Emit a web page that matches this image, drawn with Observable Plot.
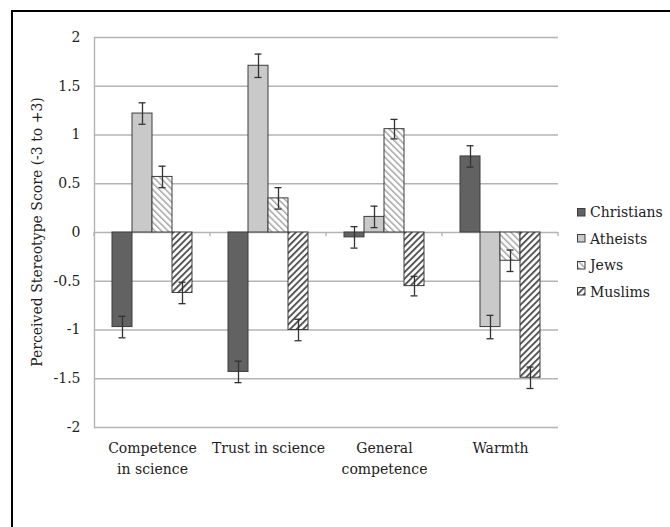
<!DOCTYPE html>
<html>
<head>
<meta charset="utf-8">
<script src="https://cdn.jsdelivr.net/npm/d3@7"></script>
<script src="https://cdn.jsdelivr.net/npm/@observablehq/plot@0.6"></script>
<style>
  html, body { margin: 0; padding: 0; background: #fff; overflow: hidden; }
  #wrap { position: relative; width: 670px; height: 527px; }
  #frame { position: absolute; left: 10.5px; top: 10px; width: 720px; height: 580px;
           border: 2.5px solid #000; box-sizing: border-box; }
  #chart { position: absolute; left: 0; top: 0; }
  #ytitle { position: absolute; left: 37px; top: 231.5px; white-space: nowrap;
            font-family: "DejaVu Serif", serif; font-size: 14px; color: #222;
            transform: translate(-50%, -50%) rotate(-90deg); }
  #legend { position: absolute; left: 577px; top: 199px;
            font-family: "DejaVu Serif", serif; font-size: 14px; color: #222; }
  #legend .row { display: flex; align-items: center; height: 26.5px; }
  #legend svg { margin-right: 4px; }
</style>
</head>
<body>
<svg width="0" height="0" style="position:absolute">
  <defs>
    <pattern id="hatch-jews" patternUnits="userSpaceOnUse" width="4.6" height="10" patternTransform="rotate(-45)">
      <rect width="4.6" height="10" fill="#fff"></rect>
      <rect x="0" width="1.5" height="10" fill="#a6a6a6"></rect>
    </pattern>
    <pattern id="hatch-muslims" patternUnits="userSpaceOnUse" width="4.6" height="10" patternTransform="rotate(45)">
      <rect width="4.6" height="10" fill="#fff"></rect>
      <rect x="0" width="1.9" height="10" fill="#555"></rect>
    </pattern>
  </defs>
</svg>
<div id="wrap">
  <div id="frame"></div>
  <div id="chart"></div>
  <div id="ytitle">Perceived Stereotype Score (-3 to +3)</div>
  <div id="legend"></div>
</div>
<script>
// Stereotype dimensions and their axis labels
const categories = ["Competence in science", "Trust in science", "General competence", "Warmth"];
const categoryLabels = ["Competence\nin science", "Trust in science", "General\ncompetence", "Warmth"];

// Target groups
const groups = ["Christians", "Atheists", "Jews", "Muslims"];

// Mean perceived stereotype scores, one value per dimension
const christians = [-0.97, -1.43, -0.05, 0.78];
const atheists   = [1.22, 1.71, 0.16, -0.97];
const jews       = [0.57, 0.35, 1.06, -0.29];
const muslims    = [-0.62, -1.00, -0.55, -1.49];

// Standard errors
const seChristians = [0.11, 0.11, 0.11, 0.11];
const seAtheists   = [0.11, 0.12, 0.11, 0.12];
const seJews       = [0.11, 0.11, 0.10, 0.11];
const seMuslims    = [0.11, 0.11, 0.10, 0.11];

const yTicks = [-2, -1.5, -1, -0.5, 0, 0.5, 1, 1.5, 2];

const groupFills = ["#626262", "#c9c9c9", "url(#hatch-jews)", "url(#hatch-muslims)"];

const values = [christians, atheists, jews, muslims];
const errors = [seChristians, seAtheists, seJews, seMuslims];
const rows = [];
categories.forEach((c, ci) => {
  groups.forEach((g, gi) => {
    rows.push({category: c, group: g, value: values[gi][ci], se: errors[gi][ci]});
  });
});

const chart = Plot.plot({
  width: 670,
  height: 527,
  marginLeft: 93,
  marginRight: 112,
  marginTop: 37,
  marginBottom: 100,
  style: {fontFamily: "DejaVu Serif, serif", fontSize: "14px", color: "#222", background: "transparent", overflow: "visible"},
  fx: {domain: categories, padding: 0, axis: null},
  x: {domain: groups, paddingInner: 0, paddingOuter: 0.77, axis: null},
  y: {domain: [-2, 2], axis: null},
  color: {domain: groups, range: groupFills},
  marks: [
    Plot.gridY(yTicks, {stroke: "#b4b4b4", strokeOpacity: 1, strokeWidth: 1.4}),
    Plot.frame({anchor: "left", facetAnchor: "left", stroke: "#b4b4b4", strokeWidth: 1.4}),
    Plot.axisY(yTicks, {label: null, tickSize: 0, tickPadding: 14, fontSize: 14, tickFormat: d => String(d)}),
    Plot.barY(rows, {fx: "category", x: "group", y: "value", fill: "group", stroke: "#3c3c3c", strokeWidth: 1}),
    Plot.ruleX(rows, {fx: "category", x: "group", y1: d => d.value - d.se, y2: d => d.value + d.se, stroke: "#333", strokeWidth: 1.3}),
    Plot.tickY(rows, {fx: "category", x: "group", y: d => d.value - d.se, stroke: "#333", strokeWidth: 1.3, insetLeft: 6.5, insetRight: 6.5}),
    Plot.tickY(rows, {fx: "category", x: "group", y: d => d.value + d.se, stroke: "#333", strokeWidth: 1.3, insetLeft: 6.5, insetRight: 6.5}),
    Plot.text(categories, {fx: d => d, text: (d, i) => categoryLabels[i], frameAnchor: "bottom", lineAnchor: "top", dy: 11, lineHeight: 1.5, fontSize: 14, fill: "#222"})
  ]
});

// Small category-boundary ticks along the zero line
const fx = chart.scale("fx");
const yScale = chart.scale("y");
const y0 = yScale.apply(0);
const edges = categories.map(c => fx.apply(c)).concat([fx.apply(categories[categories.length - 1]) + fx.bandwidth]);
d3.select(chart).append("g")
  .selectAll("line")
  .data(edges)
  .join("line")
  .attr("x1", d => d).attr("x2", d => d)
  .attr("y1", y0).attr("y2", y0 + 4)
  .attr("stroke", "#b4b4b4").attr("stroke-width", 1.4);

document.getElementById("chart").appendChild(chart);

// Legend, stacked vertically on the right
const color = chart.scale("color");
const legend = d3.select("#legend");
groups.forEach(g => {
  const row = legend.append("div").attr("class", "row");
  const sw = row.append("svg").attr("width", 9).attr("height", 9);
  sw.append("rect").attr("x", 0.5).attr("y", 0.5).attr("width", 7.5).attr("height", 7.5)
    .attr("fill", color.apply(g)).attr("stroke", "#3c3c3c").attr("stroke-width", 1);
  row.append("span").text(g);
});
</script>
</body>
</html>
